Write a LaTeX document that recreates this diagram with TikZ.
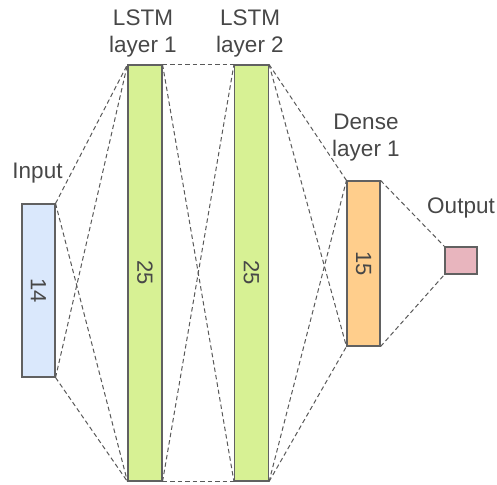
\documentclass[tikz,border=0pt]{standalone}
\usepackage{fontspec}
\setmainfont{Liberation Sans}
\begin{document}
\begin{tikzpicture}[x=1pt,y=-1pt,
  layerbox/.style={draw=black!62, line width=1.1pt, rectangle, inner sep=0pt},
  lbl/.style={text=black!72, font=\fontsize{22.5}{27}\selectfont, align=center, inner sep=0pt},
  num/.style={text=black!72, font=\fontsize{22}{26}\selectfont, rotate=-90, inner sep=0pt},
  link/.style={draw=black!65, dashed, dash pattern=on 4.5pt off 3pt, line width=1pt}
]
\useasboundingbox (0,0) rectangle (497,484);
\definecolor{inblue}{HTML}{DAE8FC}
\definecolor{lstmgreen}{HTML}{D7F194}
\definecolor{denseorange}{HTML}{FFCE8C}
\definecolor{outpink}{HTML}{E8B5BE}

% layer boxes
\node[layerbox, fill=inblue, minimum width=33pt, minimum height=173pt] (in) at (38.5,290.5) {};
\node[layerbox, fill=lstmgreen, minimum width=34pt, minimum height=416pt] (l1) at (145,273) {};
\node[layerbox, fill=lstmgreen, minimum width=34pt, minimum height=416pt] (l2) at (251.5,273) {};
\node[layerbox, fill=denseorange, minimum width=33pt, minimum height=165pt] (d1) at (363.5,263.5) {};
\node[layerbox, fill=outpink, minimum width=32pt, minimum height=27pt] (out) at (461,260.5) {};

% unit counts
\node[num] (nin) at (in.center) {14};
\node[num] (nl1) at (l1.center) {25};
\node[num] (nl2) at (l2.center) {25};
\node[num] (nd1) at (d1.center) {15};

% layer titles (base anchor sits on the last line)
\node[lbl, anchor=base] (tin) at (37.5,178) {Input};
\node[lbl, anchor=base] (tl1) at (143,53) {LSTM\\layer 1};
\node[lbl, anchor=base] (tl2) at (250,53) {LSTM\\layer 2};
\node[lbl, anchor=base] (td1) at (366,156) {Dense\\layer 1};
\node[lbl, anchor=base] (tout) at (461,213) {Output};

% connections between layers
\draw[link] (in.north east) -- (l1.north west);
\draw[link] (in.north east) -- (l1.south west);
\draw[link] (in.south east) -- (l1.north west);
\draw[link] (in.south east) -- (l1.south west);

\draw[link] (l1.north east) -- (l2.north west);
\draw[link] (l1.north east) -- (l2.south west);
\draw[link] (l1.south east) -- (l2.north west);
\draw[link] (l1.south east) -- (l2.south west);

\draw[link] (l2.north east) -- (d1.north west);
\draw[link] (l2.north east) -- (d1.south west);
\draw[link] (l2.south east) -- (d1.north west);
\draw[link] (l2.south east) -- (d1.south west);

\draw[link] (d1.north east) -- (out.north west);
\draw[link] (d1.south east) -- (out.south west);
\end{tikzpicture}
\end{document}
